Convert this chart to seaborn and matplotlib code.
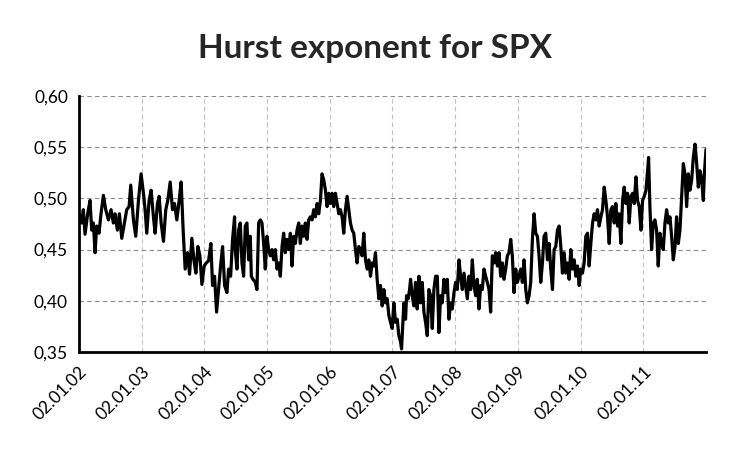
import numpy as np
import pandas as pd
import matplotlib.pyplot as plt
import matplotlib.ticker as mticker
import seaborn as sns

sns.set_theme(style="white")
plt.rcParams['font.family'] = ['Lato', 'DejaVu Sans']

# Years elapsed since 02.01.2002 and Hurst exponent
years = [
    0.011, 0.043, 0.069, 0.096, 0.138, 0.176, 0.202, 0.229, 0.256, 0.282, 0.319, 0.351,
    0.389, 0.426, 0.469, 0.511, 0.548, 0.575, 0.612, 0.644, 0.682, 0.724, 0.761, 0.799,
    0.825, 0.868, 0.905, 0.948, 0.990, 1.028, 1.054, 1.081, 1.118, 1.150, 1.187, 1.214,
    1.251, 1.278, 1.310, 1.347, 1.384, 1.416, 1.454, 1.491, 1.523, 1.560, 1.597, 1.629,
    1.661, 1.693, 1.731, 1.763, 1.800, 1.832, 1.864, 1.896, 1.928, 1.960, 1.997, 2.029,
    2.066, 2.103, 2.130, 2.162, 2.194, 2.226, 2.258, 2.290, 2.322, 2.359, 2.386, 2.418,
    2.449, 2.481,
    2.492, 2.519, 2.545, 2.572, 2.599, 2.625, 2.652, 2.678, 2.705, 2.732, 2.748, 2.774,
    2.812, 2.838, 2.865, 2.891, 2.918, 2.945, 2.971, 2.998, 3.024, 3.051, 3.078, 3.104,
    3.131, 3.158, 3.184, 3.211, 3.238, 3.264, 3.291, 3.317, 3.344, 3.371, 3.397, 3.424,
    3.450, 3.477, 3.504, 3.530, 3.557, 3.584, 3.610, 3.637, 3.663, 3.690, 3.717, 3.743,
    3.770, 3.797, 3.823, 3.850, 3.876, 3.903, 3.930, 3.956, 3.983, 4.009, 4.036, 4.063,
    4.089, 4.116, 4.143, 4.169, 4.196, 4.222, 4.249, 4.276, 4.302, 4.329, 4.356, 4.382,
    4.409, 4.435, 4.462, 4.489, 4.515, 4.542, 4.569, 4.595, 4.622, 4.649, 4.675, 4.702,
    4.728, 4.755, 4.782, 4.808, 4.835, 4.862, 4.888, 4.915, 4.941, 4.968,
    4.995, 5.021, 5.048, 5.075, 5.101, 5.128, 5.144, 5.165, 5.181, 5.208, 5.224, 5.250,
    5.272, 5.288, 5.314, 5.341, 5.367, 5.394, 5.421, 5.447, 5.474, 5.501, 5.527, 5.554,
    5.580, 5.607, 5.634, 5.660, 5.687, 5.714, 5.740, 5.767, 5.793, 5.820, 5.847, 5.873,
    5.900, 5.927, 5.953, 5.980, 6.006, 6.033, 6.060, 6.086, 6.113, 6.140, 6.166, 6.193,
    6.219, 6.246, 6.273, 6.299, 6.326, 6.352, 6.379, 6.406, 6.432, 6.459, 6.486, 6.512,
    6.539, 6.565, 6.592, 6.619, 6.645, 6.672, 6.699, 6.725, 6.752, 6.778, 6.805, 6.832,
    6.858, 6.885, 6.911, 6.938, 6.965, 6.991, 7.018, 7.045, 7.071, 7.098, 7.125, 7.151,
    7.178, 7.204, 7.231, 7.258, 7.284, 7.311, 7.337, 7.364, 7.391, 7.417, 7.444,
    7.471, 7.497, 7.524, 7.551, 7.577, 7.604, 7.630, 7.657, 7.684, 7.710, 7.737, 7.764,
    7.790, 7.817, 7.843, 7.870, 7.897, 7.923, 7.950, 7.977, 8.003, 8.030, 8.056, 8.083,
    8.110, 8.136, 8.163, 8.190, 8.216, 8.243, 8.269, 8.296, 8.323, 8.349, 8.376, 8.403,
    8.429, 8.456, 8.482, 8.509, 8.536, 8.562, 8.589, 8.616, 8.642, 8.669, 8.695, 8.722,
    8.749, 8.775, 8.802, 8.829, 8.855, 8.882, 8.908, 8.935, 8.962, 8.988, 9.015, 9.042,
    9.068, 9.084, 9.105, 9.132, 9.159, 9.185, 9.212, 9.238, 9.265, 9.292, 9.318, 9.345,
    9.372, 9.398, 9.425, 9.451, 9.478, 9.505, 9.531, 9.558, 9.584, 9.611, 9.638, 9.664,
    9.691, 9.718, 9.744, 9.771, 9.797, 9.824, 9.851, 9.877, 9.904, 9.931, 9.957, 9.973,
    10.000,
]
hurst = [
    0.484, 0.476, 0.489, 0.465, 0.485, 0.498, 0.469, 0.476, 0.447, 0.473, 0.466, 0.485,
    0.503, 0.489, 0.479, 0.489, 0.476, 0.485, 0.469, 0.485, 0.461, 0.476, 0.489, 0.492,
    0.513, 0.479, 0.463, 0.498, 0.524, 0.505, 0.489, 0.466, 0.498, 0.508, 0.482, 0.466,
    0.495, 0.502, 0.476, 0.458, 0.489, 0.498, 0.516, 0.489, 0.495, 0.479, 0.498, 0.516,
    0.469, 0.431, 0.447, 0.426, 0.461, 0.440, 0.427, 0.453, 0.444, 0.416, 0.434, 0.437,
    0.439, 0.456, 0.415, 0.424, 0.389, 0.411, 0.434, 0.453, 0.415, 0.408, 0.431, 0.424,
    0.460, 0.482,
    0.450, 0.431, 0.469, 0.476, 0.437, 0.424, 0.473, 0.476, 0.440, 0.463, 0.424, 0.421,
    0.418, 0.411, 0.476, 0.479, 0.476, 0.456, 0.431, 0.463, 0.450, 0.444, 0.450, 0.440,
    0.450, 0.431, 0.437, 0.424, 0.453, 0.466, 0.447, 0.460, 0.450, 0.466, 0.434, 0.463,
    0.456, 0.469, 0.476, 0.456, 0.473, 0.463, 0.476, 0.460, 0.479, 0.482, 0.479, 0.489,
    0.482, 0.495, 0.485, 0.498, 0.524, 0.518, 0.508, 0.492, 0.505, 0.495, 0.505, 0.492,
    0.505, 0.495, 0.485, 0.489, 0.482, 0.466, 0.489, 0.502, 0.489, 0.476, 0.469, 0.466,
    0.450, 0.437, 0.453, 0.450, 0.444, 0.466, 0.440, 0.431, 0.440, 0.424, 0.437, 0.434,
    0.447, 0.421, 0.402, 0.415, 0.395, 0.411, 0.398, 0.402, 0.386, 0.379,
    0.373, 0.398, 0.379, 0.382, 0.366, 0.360, 0.353, 0.379, 0.398, 0.382, 0.405, 0.402,
    0.411, 0.421, 0.405, 0.395, 0.418, 0.392, 0.424, 0.398, 0.418, 0.389, 0.379, 0.366,
    0.411, 0.405, 0.373, 0.411, 0.424, 0.424, 0.369, 0.405, 0.398, 0.421, 0.408, 0.421,
    0.382, 0.398, 0.392, 0.408, 0.418, 0.411, 0.440, 0.424, 0.411, 0.427, 0.415, 0.402,
    0.424, 0.411, 0.440, 0.415, 0.405, 0.421, 0.392, 0.415, 0.411, 0.431, 0.424, 0.418,
    0.411, 0.389, 0.444, 0.437, 0.447, 0.434, 0.447, 0.424, 0.437, 0.421, 0.431, 0.444,
    0.447, 0.460, 0.444, 0.408, 0.431, 0.418, 0.424, 0.431, 0.418, 0.440, 0.411, 0.398,
    0.405, 0.418, 0.460, 0.485, 0.466, 0.463, 0.444, 0.418, 0.437, 0.463, 0.466,
    0.440, 0.456, 0.431, 0.411, 0.450, 0.453, 0.469, 0.473, 0.453, 0.427, 0.447, 0.427,
    0.437, 0.421, 0.450, 0.431, 0.440, 0.424, 0.434, 0.415, 0.431, 0.427, 0.437, 0.463,
    0.466, 0.434, 0.456, 0.476, 0.485, 0.479, 0.489, 0.473, 0.482, 0.489, 0.511, 0.498,
    0.482, 0.456, 0.489, 0.492, 0.476, 0.495, 0.473, 0.485, 0.456, 0.498, 0.511, 0.495,
    0.505, 0.476, 0.502, 0.505, 0.495, 0.521, 0.498, 0.492, 0.469, 0.498, 0.502, 0.508,
    0.527, 0.540, 0.492, 0.450, 0.476, 0.479, 0.469, 0.434, 0.466, 0.456, 0.450, 0.476,
    0.489, 0.476, 0.482, 0.463, 0.440, 0.453, 0.482, 0.456, 0.469, 0.502, 0.534, 0.524,
    0.492, 0.524, 0.508, 0.518, 0.540, 0.553, 0.534, 0.511, 0.527, 0.518, 0.498, 0.524,
    0.548,
]

tick_years = list(range(2002, 2012))
start = pd.Timestamp("2002-01-02")

df = pd.DataFrame({
    "date": start + pd.to_timedelta(np.array(years) * 365.25, unit="D"),
    "hurst": hurst,
})

fig = plt.figure(figsize=(7.51, 4.51), dpi=100)
ax = fig.add_axes([0.1052, 0.2195, 0.8348, 0.5676])

sns.lineplot(data=df, x="date", y="hurst", color="black", linewidth=2.3, ax=ax)

ax.set_xlim(start, pd.Timestamp("2012-01-02"))
ax.set_ylim(0.35, 0.60)
ax.set_yticks(np.arange(0.35, 0.601, 0.05))
ax.yaxis.set_major_formatter(mticker.FuncFormatter(lambda v, p: f"{v:.2f}".replace(".", ",")))

tick_dates = [pd.Timestamp(f"{y}-01-02") for y in tick_years]
ax.set_xticks(tick_dates)
ax.set_xticklabels([d.strftime("%d.%m.%y") for d in tick_dates],
                   rotation=45, ha="right", rotation_mode="anchor")

ax.grid(True, axis="y", linestyle=(0, (4, 3)), color="#8c8c8c", linewidth=0.8)
ax.grid(True, axis="x", linestyle=(0, (4, 3)), color="#bfbfbf", linewidth=0.8)

for side in ["top", "right"]:
    ax.spines[side].set_visible(False)
for side in ["left", "bottom"]:
    ax.spines[side].set_color("black")
    ax.spines[side].set_linewidth(2)

ax.tick_params(axis="both", which="major", direction="out", length=4, width=1.8,
               color="black", labelsize=12.5, labelcolor="black", pad=4)
ax.set_xlabel("")
ax.set_ylabel("")

fig.text(0.5, 0.893, "Hurst exponent for SPX", ha="center", va="center",
         fontsize=24, fontweight="bold")

fig.savefig("out.png", dpi=100, facecolor="white")
